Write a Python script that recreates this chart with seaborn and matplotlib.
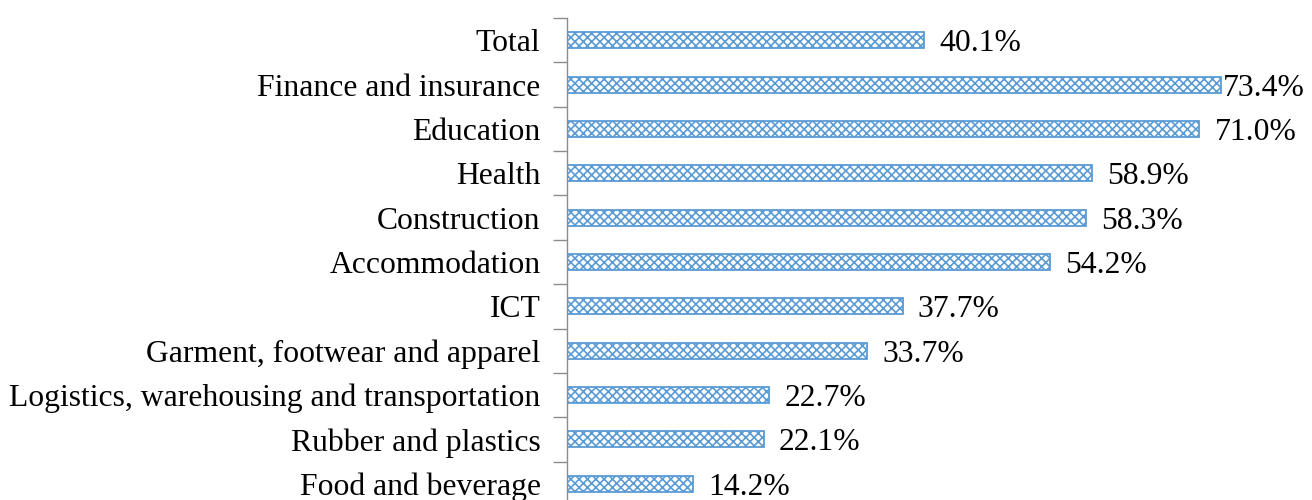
import numpy as np
import pandas as pd
import matplotlib
matplotlib.use('Agg')
import matplotlib.pyplot as plt
import seaborn as sns

# Data
sectors = ['Total', 'Finance and insurance', 'Education', 'Health', 'Construction',
           'Accommodation', 'ICT', 'Garment, footwear and apparel',
           'Logistics, warehousing and transportation', 'Rubber and plastics',
           'Food and beverage']
shares = [40.1, 73.4, 71.0, 58.9, 58.3, 54.2, 37.7, 33.7, 22.7, 22.1, 14.2]

df = pd.DataFrame({'Sector': sectors, 'Share': shares})

sns.set_style('white')
plt.rcParams['font.family'] = ['Liberation Serif', 'DejaVu Serif']
plt.rcParams['hatch.color'] = '#5B9BD5'
plt.rcParams['hatch.linewidth'] = 1.2

fig = plt.figure(figsize=(13.12, 5.0), dpi=100)
ax = fig.add_axes([567 / 1312, -0.012, 0.543, 0.976])

sns.barplot(data=df, x='Share', y='Sector', orient='h', ax=ax,
            color='white', width=0.36, edgecolor='#5B9BD5', linewidth=1.3)
# checkered fill like the original
for bar in ax.patches:
    bar.set_hatch('xxxx')
    bar.set_facecolor('white')

for i, v in enumerate(shares):
    # Excel pulls the longest label in so it stays inside the chart
    x = min(v + 1.7, 73.6)
    ax.text(x, i, f'{v:.1f}%', va='center_baseline', ha='left', fontsize=22.8, color='black')

ax.set_xlim(0, 80)
ax.set_ylim(10.5, -0.5)
ax.set_xlabel('')
ax.set_ylabel('')
ax.set_xticks([])

for side in ['top', 'right', 'bottom']:
    ax.spines[side].set_visible(False)
ax.spines['left'].set_color('#8C8C8C')
ax.spines['left'].set_linewidth(1.0)

ax.set_yticks(np.arange(-0.5, 11, 1.0), minor=True)
ax.tick_params(axis='y', which='major', length=0, pad=19, labelsize=22.8, labelcolor='black')
ax.tick_params(axis='y', which='minor', length=10, width=1.0, color='#8C8C8C', left=True)

plt.savefig('out.png', dpi=100)
